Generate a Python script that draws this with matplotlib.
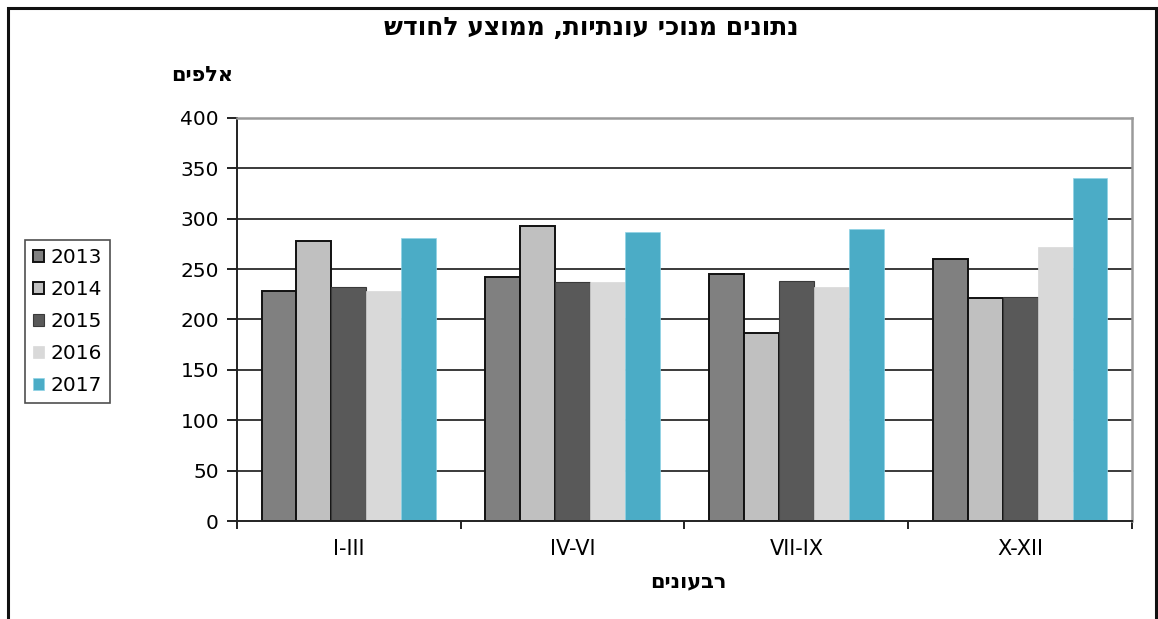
import matplotlib
matplotlib.use("Agg")
import matplotlib.pyplot as plt
import matplotlib.patches as patches
import numpy as np

plt.rcParams['font.family'] = ['DejaVu Sans']

# נתונים
quarters = ["I-III", "IV-VI", "VII-IX", "X-XII"]
years = ["2013", "2014", "2015", "2016", "2017"]
v2013 = [228, 242, 245, 260]
v2014 = [278, 293, 187, 221]
v2015 = [232, 237, 238, 222]
v2016 = [228, 237, 232, 272]
v2017 = [281, 287, 290, 340]
series = [v2013, v2014, v2015, v2016, v2017]

colors = ["#808080", "#c0c0c0", "#595959", "#d9d9d9", "#4bacc6"]
edges = ["#111111", "#111111", "#3a3a3a", "#d9d9d9", "#8fd3e6"]
lws = [1.4, 1.4, 0.8, 0.5, 0.5]

title = "נתונים מנוכי עונתיות, ממוצע לחודש"
ylab = "אלפים"
xlab = "רבעונים"


def heb(s):
    # matplotlib אינו הופך טקסט מימין לשמאל
    return s[::-1]


fig = plt.figure(figsize=(11.58, 6.19), dpi=100)
ax = fig.add_axes([0.2047, 0.1583, 0.9775 - 0.2047, 0.8094 - 0.1583])

x = np.arange(len(quarters))
w = 1 / 6.4
for i, vals in enumerate(series):
    ax.bar(x + (i - 2) * w, vals, width=w, color=colors[i], edgecolor=edges[i],
           linewidth=lws[i], label=years[i], zorder=3)

ax.set_xlim(-0.5, 3.5)
ax.set_ylim(0, 400)
ax.set_yticks(np.arange(0, 401, 50))
for yv in range(50, 400, 50):
    ax.axhline(yv, color="#3a3a3a", lw=1.4, zorder=1)

ax.set_xticks(x)
ax.set_xticklabels(quarters, fontsize=15)
ax.set_xticks(np.arange(-0.5, 3.6, 1), minor=True)
ax.tick_params(axis='x', which='major', length=0, pad=13)
ax.tick_params(axis='x', which='minor', length=6, width=1.4, color="#222222")
ax.tick_params(axis='y', length=7, width=1.4, labelsize=14.5, pad=6, color="#222222")

for s in ["left", "bottom"]:
    ax.spines[s].set_color("#222222")
    ax.spines[s].set_linewidth(1.4)
for s in ["top", "right"]:
    ax.spines[s].set_color("#9a9a9a")
    ax.spines[s].set_linewidth(1.8)
ax.spines["bottom"].set_zorder(4)

leg = fig.legend(loc="upper left", bbox_to_anchor=(25 / 1158, 1 - 240 / 619),
                 fontsize=14.5, frameon=True, fancybox=False, handlelength=0.55,
                 handleheight=0.55, handletextpad=0.3, labelspacing=0.65,
                 borderpad=0.4, borderaxespad=0)
leg.get_frame().set_edgecolor("#222222")
leg.get_frame().set_linewidth(1.2)

fig.text(591 / 1158, 1 - 28 / 619, heb(title), ha="center", va="center",
         fontsize=18, fontweight="bold")
fig.text(202 / 1158, 1 - 75 / 619, heb(ylab), ha="center", va="center",
         fontsize=15, fontweight="bold")
fig.text(688 / 1158, 1 - 581 / 619, heb(xlab), ha="center", va="center",
         fontsize=15, fontweight="bold")

# מסגרת חיצונית
fig.patches.append(patches.Rectangle((8 / 1158, -0.05), 1148 / 1158,
                                     1 - 8 / 619 + 0.05, transform=fig.transFigure,
                                     fill=False, edgecolor="#111111", lw=2.2))

fig.savefig("out.png", dpi=100)
